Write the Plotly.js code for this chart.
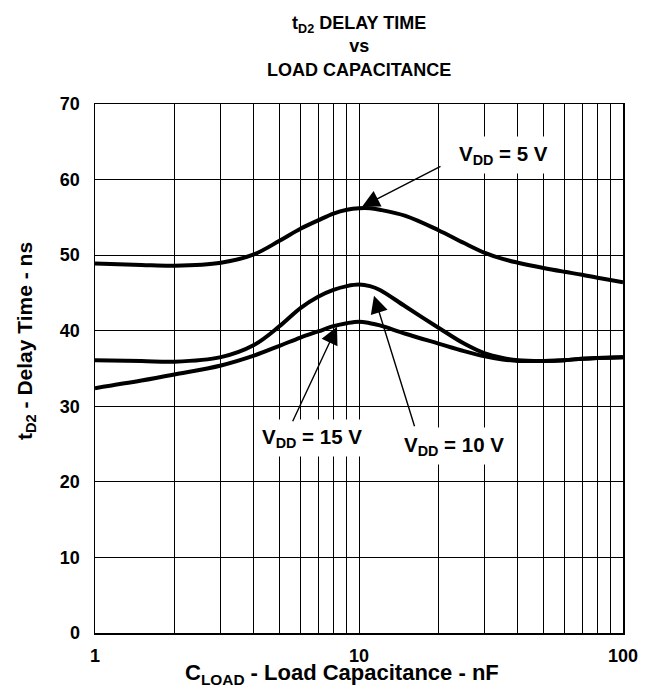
<!DOCTYPE html>
<html>
<head>
<meta charset="utf-8">
<script src="https://cdn.plot.ly/plotly-3.0.1.min.js"></script>
<style>body{margin:0;background:#fff}#chart{width:652px;height:692px}</style>
</head>
<body>
<div id="chart"></div>
<script>
// Load capacitance (nF)
const cload = [1, 1.5, 2, 3, 4, 5, 6, 7, 8, 9, 10, 11, 12, 15, 20, 25, 30, 35, 40, 50, 60, 70, 80, 100];
// Delay time tD2 (ns)
const vdd5  = [48.9, 48.7, 48.6, 49.0, 50.1, 51.9, 53.5, 54.6, 55.5, 56.0, 56.2, 56.2, 56.0, 55.2, 53.3, 51.6, 50.3, 49.5, 49.0, 48.3, 47.8, 47.4, 47.0, 46.4];
const vdd10 = [36.1, 36.0, 35.9, 36.5, 38.1, 40.6, 43.0, 44.5, 45.4, 45.9, 46.1, 45.9, 45.4, 43.2, 40.4, 38.3, 37.0, 36.4, 36.1, 36.0, 36.1, 36.3, 36.4, 36.5];
const vdd15 = [32.4, 33.4, 34.2, 35.4, 36.7, 38.0, 39.1, 39.9, 40.6, 41.0, 41.2, 41.0, 40.7, 39.6, 38.3, 37.3, 36.6, 36.2, 36.0, 36.0, 36.1, 36.3, 36.4, 36.5];

const xGrid = [1,2,3,4,5,6,7,8,9,10,20,30,40,50,60,70,80,90,100];
const xTickText = ['1','','','','','','','','','10','','','','','','','','','100'];
const yTicks = [0,10,20,30,40,50,60,70];

const FONT = 'Liberation Sans, Arial, Helvetica, sans-serif';
const lineStyle = {color:'#000', width:4, shape:'spline', smoothing:1};

const traces = [
  {x:cload, y:vdd5,  mode:'lines', line:lineStyle, name:'VDD = 5 V'},
  {x:cload, y:vdd10, mode:'lines', line:lineStyle, name:'VDD = 10 V'},
  {x:cload, y:vdd15, mode:'lines', line:lineStyle, name:'VDD = 15 V'}
];

// pixel helpers for annotation placement (plot area 95..623 x 104..633)
const PX = px => (px - 95) / 264;          // log10 position on x axis
const PY = py => (633.3 - py) / 7.557;     // data y
const paperX = px => (px - 95) / 528;
const paperY = py => (633 - py) / 529;

const lblFont = {family:FONT, size:20.5, color:'#000'};
const arrowCommon = {text:'', showarrow:true, arrowhead:2, arrowsize:2.5, arrowwidth:1.4, arrowcolor:'#000', xref:'x', yref:'y', axref:'pixel', ayref:'pixel', standoff:0};

const layout = {
  width:652, height:692,
  margin:{l:95, r:29, t:104, b:59},
  paper_bgcolor:'#fff', plot_bgcolor:'#fff',
  showlegend:false,
  font:{family:FONT, size:18, color:'#000'},
  xaxis:{
    type:'log', range:[0,2],
    tickvals:xGrid, ticktext:xTickText.map(t=>t?'<b>'+t+'</b>':''),
    showgrid:true, gridcolor:'#000', gridwidth:1,
    showline:true, linecolor:'#000', linewidth:1.5, mirror:true,
    ticks:'', ticklabelstandoff:6,
    tickfont:{family:FONT, size:18, color:'#000'},
    zeroline:false
  },
  yaxis:{
    range:[0,70], tickvals:yTicks, ticktext:yTicks.map(v=>'<b>'+v+'</b>'),
    showgrid:true, gridcolor:'#000', gridwidth:1,
    showline:true, linecolor:'#000', linewidth:1.5, mirror:true,
    ticks:'', ticklabelstandoff:10,
    tickfont:{family:FONT, size:18, color:'#000'},
    zeroline:false
  },
  annotations:[
    // chart title
    {text:'<b>t<sub style="font-size:80%">D2</sub> DELAY TIME<br>vs<br>LOAD CAPACITANCE</b>', xref:'paper', yref:'paper',
     x:paperX(359), y:paperY(46), xanchor:'center', yanchor:'middle', showarrow:false,
     font:{family:FONT, size:18, color:'#000'}},
    // axis titles
    {text:'<b>C<sub>LOAD</sub> - Load Capacitance - nF</b>', xref:'paper', yref:'paper',
     x:paperX(342), y:paperY(674), xanchor:'center', yanchor:'middle', showarrow:false,
     font:{family:FONT, size:22, color:'#000'}},
    {text:'<b>t<sub>D2</sub> - Delay Time - ns</b>', xref:'paper', yref:'paper',
     x:paperX(26), y:paperY(341), xanchor:'center', yanchor:'middle', textangle:-90, showarrow:false,
     font:{family:FONT, size:21, color:'#000'}},
    // curve labels
    {text:'<b>V<sub>DD</sub> = 5 V</b>', xref:'x', yref:'y', x:PX(503), y:PY(155),
     showarrow:false, bgcolor:'#fff', borderpad:5, font:lblFont},
    {text:'<b>V<sub>DD</sub> = 15 V</b>', xref:'x', yref:'y', x:PX(312), y:PY(438),
     showarrow:false, bgcolor:'#fff', borderpad:5, font:lblFont},
    {text:'<b>V<sub>DD</sub> = 10 V</b>', xref:'x', yref:'y', x:PX(454), y:PY(446),
     showarrow:false, bgcolor:'#fff', borderpad:5, font:lblFont},
    // arrows
    Object.assign({}, arrowCommon, {x:PX(362), y:PY(207), ax:80, ay:-41}),
    Object.assign({}, arrowCommon, {x:PX(337), y:PY(327), ax:-45, ay:96}),
    Object.assign({}, arrowCommon, {x:PX(374), y:PY(296), ax:41, ay:132})
  ]
};

Plotly.newPlot('chart', traces, layout, {staticPlot:true, displayModeBar:false});
</script>
</body>
</html>
